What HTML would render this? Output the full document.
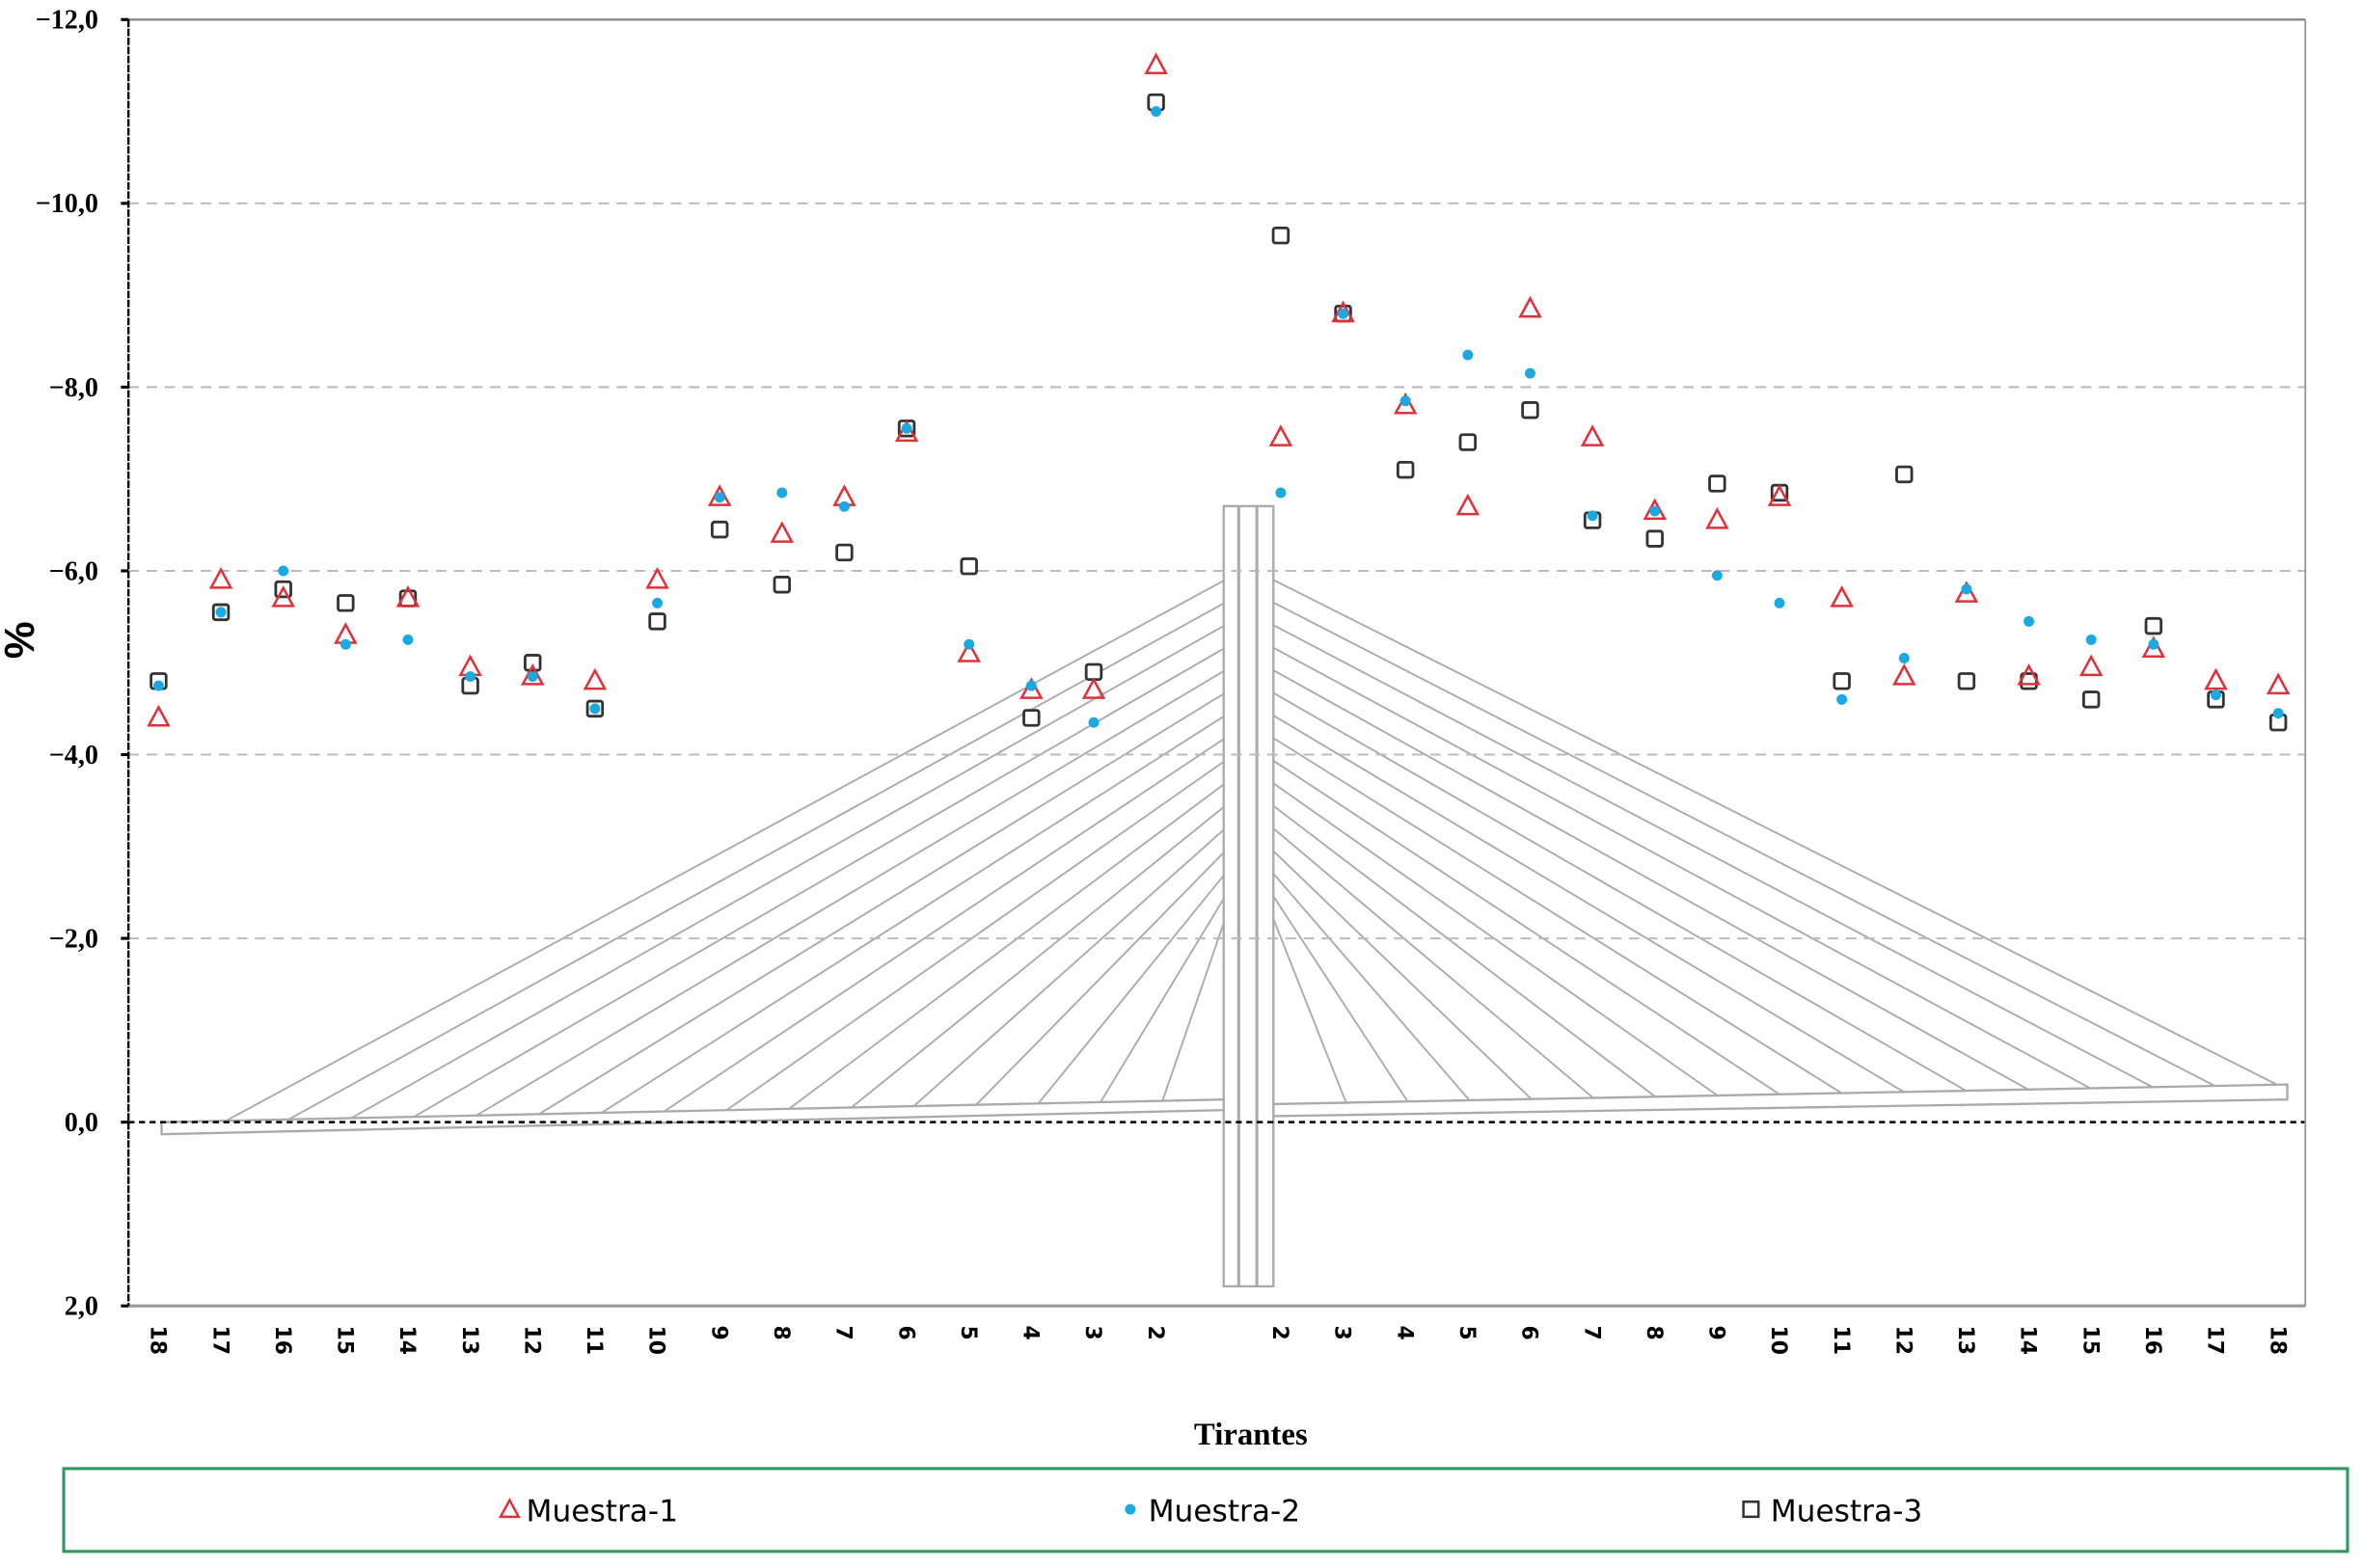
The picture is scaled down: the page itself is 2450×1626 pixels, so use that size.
<!DOCTYPE html>
<html><head><meta charset="utf-8"><style>
html,body{margin:0;padding:0;background:#fff;}
svg{display:block;}
</style></head><body>
<svg id="chart" width="2450" height="1626" viewBox="0 0 1568 1041" xmlns="http://www.w3.org/2000/svg">
<g id="bridge"></g>
<g id="grid"></g>
<g id="marks"></g>
<g id="axes"></g>
<text transform="translate(22,425) rotate(-90)" text-anchor="middle" font-family="Liberation Sans, sans-serif" font-size="28" font-weight="bold">%</text>
<text x="830" y="959" text-anchor="middle" font-family="Liberation Serif, serif" font-size="21" font-weight="bold">Tirantes</text>
<g>
<rect x="42" y="975" width="1516" height="55" fill="#fff" stroke="#2e9a5e" stroke-width="2"/>
<g><polygon points="338,996 332,1007 344,1007" fill="#fff" stroke="#e0303a" stroke-width="1.6"/><text x="349" y="1010" font-family="DejaVu Sans, sans-serif" font-size="20">Muestra-1</text></g>
<g><circle cx="750" cy="1002" r="3.5" fill="#1aa9e0"/><text x="762" y="1010" font-family="DejaVu Sans, sans-serif" font-size="20">Muestra-2</text></g>
<g><rect x="1157" y="997" width="10" height="10" fill="#fff" stroke="#333" stroke-width="1.6"/><text x="1175" y="1010" font-family="DejaVu Sans, sans-serif" font-size="20">Muestra-3</text></g>
</g>
</svg>
<script>
const categories = ["18","17","16","15","14","13","12","11","10","9","8","7","6","5","4","3","2","","2","3","4","5","6","7","8","9","10","11","12","13","14","15","16","17","18"];
const muestra1 = [-4.4,-5.9,-5.7,-5.3,-5.7,-4.95,-4.85,-4.8,-5.9,-6.8,-6.4,-6.8,-7.5,-5.1,-4.7,-4.7,-11.5,null,-7.45,-8.8,-7.8,-6.7,-8.85,-7.45,-6.65,-6.55,-6.8,-5.7,-4.85,-5.75,-4.85,-4.95,-5.15,-4.8,-4.75];
const muestra2 = [-4.75,-5.55,-6.0,-5.2,-5.25,-4.85,-4.85,-4.5,-5.65,-6.8,-6.85,-6.7,-7.55,-5.2,-4.75,-4.35,-11.0,null,-6.85,-8.8,-7.85,-8.35,-8.15,-6.6,-6.65,-5.95,-5.65,-4.6,-5.05,-5.8,-5.45,-5.25,-5.2,-4.65,-4.45];
const muestra3 = [-4.8,-5.55,-5.8,-5.65,-5.7,-4.75,-5.0,-4.5,-5.45,-6.45,-5.85,-6.2,-7.55,-6.05,-4.4,-4.9,-11.1,null,-9.65,-8.8,-7.1,-7.4,-7.75,-6.55,-6.35,-6.95,-6.85,-4.8,-7.05,-4.8,-4.8,-4.6,-5.4,-4.6,-4.35];
const yTicks = [-12,-10,-8,-6,-4,-2,0,2];
const yTickLabels = ["\u221212,0","\u221210,0","\u22128,0","\u22126,0","\u22124,0","\u22122,0","0,0","2,0"];

const NS="http://www.w3.org/2000/svg";
const L=85,R=1530,T=13,B=867;
function xs(i){return 105+i*(1512-105)/(categories.length-1);}
function ys(v){return T+(v-(-12))*(B-T)/14;}
function mk(tag,attrs,parent){const e=document.createElementNS(NS,tag);for(const k in attrs)e.setAttribute(k,attrs[k]);parent.appendChild(e);return e;}

// bridge decoration
const br=document.getElementById('bridge');
const gs={stroke:"#aaa","stroke-width":"1.2",fill:"none"};
for(let k=0;k<16;k++){
  const ay=385+k*15;
  const lx=150+k*41.4, ly=744-k*0.8;
  let l=mk('line',Object.assign({x1:813,y1:ay,x2:lx,y2:ly},gs),br);
  
  const rx=1515-k*41.4, ry=722+k*0.8;
  let r=mk('line',Object.assign({x1:845,y1:ay,x2:rx,y2:ry},gs),br);
  
}
let d1=mk('polygon',{points:"107,745 812,730 812,737 107,753",fill:"#fff",stroke:"#aaa","stroke-width":"1.5"},br);

let d2=mk('polygon',{points:"845,733 1518,720 1518,730 845,741",fill:"#fff",stroke:"#aaa","stroke-width":"1.5"},br);

let tw=mk('rect',{x:812,y:336,width:33,height:518,fill:"#fff",stroke:"#aaa","stroke-width":"1.5"},br);

mk('line',{x1:822,y1:336,x2:822,y2:854,stroke:"#aaa","stroke-width":"2"},br);
mk('line',{x1:834,y1:336,x2:834,y2:854,stroke:"#aaa","stroke-width":"2"},br);

// grid
const grid=document.getElementById('grid');
yTicks.forEach((v,i)=>{
  if(v===-12) return;
  const g=mk('line',{x1:L,x2:R,y1:ys(v),y2:ys(v),stroke:v===0?"#000":"#bbb","stroke-width":v===0?"1.6":"1.3","stroke-dasharray":v===0?"4,3":"7,5"},grid);
  
});

// marks
const mg=document.getElementById('marks');
muestra3.forEach((v,i)=>{ if(v===null)return;
  const e=mk('rect',{x:xs(i)-5,y:ys(v)-5,width:10,height:10,rx:1.5,fill:"#fff",stroke:"#333","stroke-width":"1.8"},mg);
  });
muestra1.forEach((v,i)=>{ if(v===null)return;
  const x=xs(i),y=ys(v);
  const e=mk('polygon',{points:`${x},${y-7} ${x-6.5},${y+5} ${x+6.5},${y+5}`,fill:"none",stroke:"#e0303a","stroke-width":"1.6"},mg);
  });
muestra2.forEach((v,i)=>{ if(v===null)return;
  const e=mk('circle',{cx:xs(i),cy:ys(v),r:3.5,fill:"#1aa9e0"},mg);
  });

// axes
const ax=document.getElementById('axes');
mk('line',{x1:L,y1:T,x2:R,y2:T,stroke:"#888","stroke-width":"1.5"},ax);
mk('line',{x1:R,y1:T,x2:R,y2:B,stroke:"#999","stroke-width":"1.2"},ax);
mk('line',{x1:L,y1:B,x2:R,y2:B,stroke:"#999","stroke-width":"2"},ax);
mk('line',{x1:L,y1:T,x2:L,y2:B,stroke:"#000","stroke-width":"1.5","stroke-dasharray":"5,1"},ax);
yTicks.forEach((v,i)=>{
  mk('line',{x1:L-5,x2:L,y1:ys(v),y2:ys(v),stroke:"#000","stroke-width":"2"},ax);
  const t=mk('text',{x:L-20,y:ys(v)+6,"text-anchor":"end","font-family":"Liberation Serif, serif","font-size":"18","font-weight":"bold"},ax);
  t.textContent=yTickLabels[i];
  
});
categories.forEach((c,i)=>{
  if(!c)return;
  const t=mk('text',{transform:`translate(${xs(i)-5},880) rotate(90)`,"text-anchor":"start","font-family":"DejaVu Sans, sans-serif","font-size":"14","font-weight":"bold"},ax);
  t.textContent=c;
  
});
</script>
</body></html>
